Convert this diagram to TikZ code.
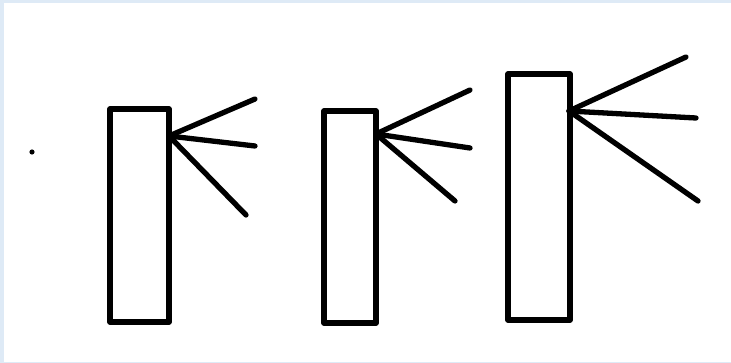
\documentclass[tikz,border=0pt]{standalone}
\definecolor{edge}{RGB}{222,234,246}
\begin{document}
\begin{tikzpicture}[x=1pt,y=-1pt,
  stroke/.style={line width=5.3pt,black,line join=round},
  ray/.style={line width=5.3pt,black,line cap=round}]
\fill[edge] (0,0) rectangle (731,363);
\fill[white] (4,3) rectangle (731,362);
\useasboundingbox (0,0) rectangle (731,363);
\fill[black] (32,152) circle (2.6);
% first
\draw[stroke] (110,322) rectangle (169,109);
\coordinate (a) at (169,136);
\coordinate (a1) at (255,99);
\coordinate (a2) at (255,146);
\coordinate (a3) at (246,215);
\draw[ray] (a) -- (a1); \draw[ray] (a) -- (a2); \draw[ray] (a) -- (a3);
% second
\draw[stroke] (324,323) rectangle (376,111);
\coordinate (b) at (376,134);
\coordinate (b1) at (470,90);
\coordinate (b2) at (470,148);
\coordinate (b3) at (455,201);
\draw[ray] (b) -- (b1); \draw[ray] (b) -- (b2); \draw[ray] (b) -- (b3);
% third
\draw[stroke] (508,320) rectangle (570,74);
\coordinate (c) at (569,111);
\coordinate (c1) at (686,57);
\coordinate (c2) at (696,118);
\coordinate (c3) at (698,201);
\draw[ray] (c) -- (c1); \draw[ray] (c) -- (c2); \draw[ray] (c) -- (c3);
\end{tikzpicture}
\end{document}
